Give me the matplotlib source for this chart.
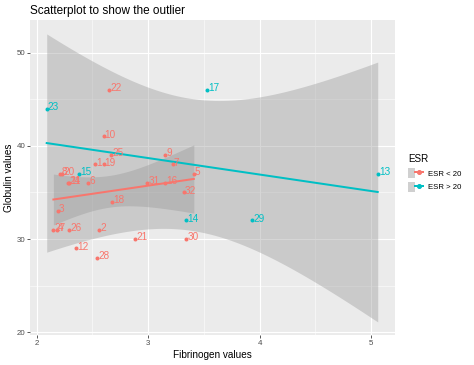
import numpy as np
import matplotlib.pyplot as plt
from matplotlib.lines import Line2D
from matplotlib.patches import Patch
from matplotlib.legend_handler import HandlerTuple

plt.rcParams['font.family'] = ['Liberation Sans', 'DejaVu Sans']

# plasma data
fibrinogen = [2.52, 2.56, 2.19, 2.18, 3.41, 2.46, 3.22, 2.21, 3.15, 2.60,
              2.29, 2.35, 5.06, 3.34, 2.38, 3.15, 3.53, 2.68, 2.60, 2.23,
              2.88, 2.65, 2.09, 2.28, 2.67, 2.29, 2.15, 2.54, 3.93, 3.34,
              2.99, 3.32]
globulin = [38, 31, 33, 31, 37, 36, 38, 37, 39, 41,
            36, 29, 37, 32, 37, 36, 46, 34, 38, 37,
            30, 46, 44, 36, 39, 31, 31, 28, 32, 30,
            36, 35]
esr = ["ESR < 20"] * 32
for i in [13, 14, 15, 17, 23, 29]:
    esr[i - 1] = "ESR > 20"
groups = ["ESR < 20", "ESR > 20"]
colors = {"ESR < 20": "#F8766D", "ESR > 20": "#00BFC4"}
t_quant = {"ESR < 20": 2.0639, "ESR > 20": 2.7764}  # 95% t, df = n-2

x = np.array(fibrinogen)
y = np.array(globulin)
g = np.array(esr)

fig = plt.figure(figsize=(474 / 72, 365 / 72), dpi=72)
ax = fig.add_axes([30 / 474, 1 - 335 / 365, 365 / 474, 315 / 365])
ax.set_facecolor("#EBEBEB")
for s in ax.spines.values():
    s.set_visible(False)

# lm fit + 95% band per group
for grp in groups:
    m = g == grp
    xs, ys = x[m], y[m]
    n = len(xs)
    b, a = np.polyfit(xs, ys, 1)
    resid = ys - (a + b * xs)
    sig = np.sqrt(np.sum(resid ** 2) / (n - 2))
    sxx = np.sum((xs - xs.mean()) ** 2)
    xx = np.linspace(xs.min(), xs.max(), 80)
    yy = a + b * xx
    se = sig * np.sqrt(1 / n + (xx - xs.mean()) ** 2 / sxx)
    ax.fill_between(xx, yy - t_quant[grp] * se, yy + t_quant[grp] * se,
                    color="#999999", alpha=0.4, lw=0, zorder=2)
    ax.plot(xx, yy, color=colors[grp], lw=2, zorder=3)

for i in range(len(x)):
    c = colors[esr[i]]
    ax.scatter(x[i], y[i], s=16, color=c, zorder=4, lw=0)
    ax.annotate(str(i + 1), (x[i], y[i]), xytext=(1.2, 1.8), textcoords="offset points",
                color=c, fontsize=10, ha="left", va="center", zorder=5)

ax.set_xlim(1.94, 5.215)
ax.set_ylim(19.7, 53.5)
ax.set_xticks([2, 3, 4, 5])
ax.set_yticks([20, 30, 40, 50])
ax.set_xticks([2.5, 3.5, 4.5], minor=True)
ax.set_yticks([25, 35, 45], minor=True)
ax.grid(which="major", color="white", lw=1.1, zorder=0)
ax.grid(which="minor", color="white", lw=0.55, zorder=0)
ax.set_axisbelow(True)
ax.tick_params(which="major", length=2.7, color="#333333", labelsize=7.9,
               labelcolor="#4D4D4D", pad=2)
ax.tick_params(which="minor", length=0)

ax.set_xlabel("Fibrinogen values", fontsize=10, labelpad=3)
ax.set_ylabel("Globulin values", fontsize=10, labelpad=3)
ax.set_title("Scatterplot to show the outlier", fontsize=11.8, loc="left", pad=6)

handles = [(Patch(facecolor="#D0D0D0", edgecolor="none"),
            Line2D([], [], color=colors[grp], lw=2, marker="o", markersize=4))
           for grp in groups]
leg = ax.legend(handles, groups, title="ESR", handler_map={tuple: HandlerTuple(ndivide=None, pad=0)},
                loc="upper left", bbox_to_anchor=(408 / 474, 1 - 154 / 365),
                bbox_transform=fig.transFigure, frameon=False,
                fontsize=7.8, title_fontsize=9.9, handlelength=1.9, handleheight=1.5,
                handletextpad=0.6, borderaxespad=0, borderpad=0, labelspacing=0.55)
leg._legend_box.align = "left"

fig.savefig("out.png", dpi=72)
